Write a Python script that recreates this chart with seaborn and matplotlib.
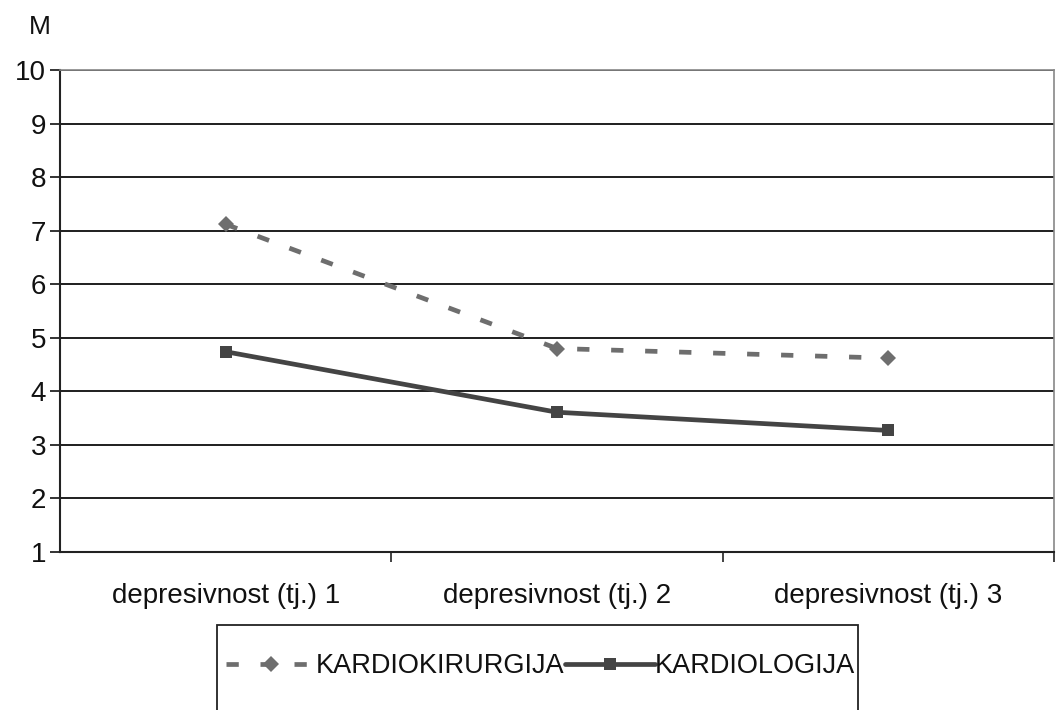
import pandas as pd
import matplotlib.pyplot as plt
from matplotlib.patches import Rectangle
from matplotlib.ticker import FixedLocator
import seaborn as sns

# values
categories = ['depresivnost (tj.) 1', 'depresivnost (tj.) 2', 'depresivnost (tj.) 3']
kardiokirurgija = [7.12, 4.80, 4.62]
kardiologija = [4.74, 3.61, 3.27]
series_names = ['KARDIOKIRURGIJA', 'KARDIOLOGIJA']
y_ticks = list(range(1, 11))

df = pd.DataFrame({
    'kategorija': categories * 2,
    'M': kardiokirurgija + kardiologija,
    'grupa': [series_names[0]] * 3 + [series_names[1]] * 3,
})

sns.set_style('white')
plt.rcParams['font.family'] = ['Liberation Sans', 'DejaVu Sans']

fig = plt.figure(figsize=(10.59, 7.10), dpi=100)
ax = fig.add_axes([0.0567, 0.2225, 0.9386, 0.6789])

sns.lineplot(data=df, x='kategorija', y='M', hue='grupa', style='grupa',
             palette={series_names[0]: '#6e6e6e', series_names[1]: '#444444'},
             markers={series_names[0]: 'D', series_names[1]: 's'},
             dashes={series_names[0]: (2.6, 4.6), series_names[1]: ''},
             linewidth=3.4, markersize=8, markeredgewidth=0, ax=ax, zorder=3)

ax.set_ylim(1, 10)
ax.set_xlim(-0.5, 2.5)
ax.set_yticks(y_ticks)
ax.set_xticks(range(len(categories)))
ax.set_xticklabels(categories)
ax.xaxis.set_minor_locator(FixedLocator([0.5, 1.5, 2.5]))
ax.tick_params(left=True, bottom=True, which='both')
ax.tick_params(axis='x', which='major', length=0, pad=22, labelsize=20, colors='#111111')
ax.tick_params(axis='x', which='minor', length=7, width=1.2, direction='out', color='#222222')
ax.tick_params(axis='y', length=7, width=1.2, direction='out', labelsize=20, pad=3,
               colors='#111111')
ax.yaxis.grid(True, color='#1e1e1e', linewidth=1.4)
ax.xaxis.grid(False)
ax.set_xlabel('')
ax.set_ylabel('')

for side in ['left', 'bottom']:
    ax.spines[side].set_color('#222222')
    ax.spines[side].set_linewidth(1.5)
for side in ['top', 'right']:
    ax.spines[side].set_color('#888888')
    ax.spines[side].set_linewidth(1.2)

fig.text(0.027, 0.962, 'M', fontsize=19, color='#111111', ha='left', va='center')

# legend: entries without frame, box drawn separately (it runs off the bottom edge)
handles, labels = ax.get_legend_handles_labels()
leg = ax.legend(handles, labels, loc='center left',
                bbox_to_anchor=(226 / 1059, 1 - 666 / 710), bbox_transform=fig.transFigure,
                ncol=2, frameon=False, fontsize=19.5, handlelength=3.3, handletextpad=0.0,
                columnspacing=0.05, borderpad=0, borderaxespad=0)
for t in leg.get_texts():
    t.set_color('#111111')
fig.patches.append(Rectangle((217 / 1059, -0.05), (858 - 217) / 1059, 1 - 625 / 710 + 0.05,
                             transform=fig.transFigure, fill=False,
                             edgecolor='#222222', linewidth=1.3))

fig.savefig('out.png', dpi=100)
